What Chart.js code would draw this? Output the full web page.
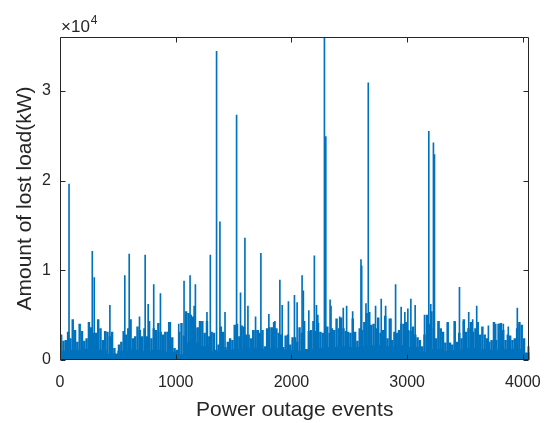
<!DOCTYPE html>
<html>
<head>
<meta charset="utf-8">
<script src="https://cdn.jsdelivr.net/npm/chart.js@4.4.1/dist/chart.umd.min.js"></script>
<style>
html,body{margin:0;padding:0;background:#fff;}
canvas{display:block;}
</style>
</head>
<body>
<canvas id="c" width="554" height="423"></canvas>
<script>
// Dense background of outage events (sampled every ~20 events, kW)
const bgEvents = [10,30,50,70,90,110,130,150,170,190,210,230,250,270,290,310,330,350,370,390,
410,430,450,470,490,510,530,550,570,590,610,630,650,670,690,710,730,750,770,790,
810,830,850,870,890,910,930,950,970,990,1010,1030,1050,1070,1090,1110,1130,1150,1170,1190,
1210,1230,1250,1270,1290,1310,1330,1350,1370,1390,1410,1430,1450,1470,1490,1510,1530,1550,1570,1590,
1610,1630,1650,1670,1690,1710,1730,1750,1770,1790,1810,1830,1850,1870,1890,1910,1930,1950,1970,1990,
2010,2030,2050,2070,2090,2110,2130,2150,2170,2190,2210,2230,2250,2270,2290,2310,2330,2350,2370,2390,
2410,2430,2450,2470,2490,2510,2530,2550,2570,2590,2610,2630,2650,2670,2690,2710,2730,2750,2770,2790,
2810,2830,2850,2870,2890,2910,2930,2950,2970,2990,3010,3030,3050,3070,3090,3110,3130,3150,3170,3190,
3210,3230,3250,3270,3290,3310,3330,3350,3370,3390,3410,3430,3450,3470,3490,3510,3530,3550,3570,3590,
3610,3630,3650,3670,3690,3710,3730,3750,3770,3790,3810,3830,3850,3870,3890,3910,3930,3950,3970,3990,
4010,4030,4050];
const bgLoad = [2800,2100,2200,3100,2400,4500,3300,2000,4000,3200,2100,2400,4200,3600,3000,3000,4500,3500,2200,3200,
3100,2600,3100,1300,400,1700,2000,3200,2800,3500,4500,2400,2600,3700,3300,2600,3500,2600,4300,2400,
3500,3300,4100,3100,2800,3100,3100,4200,2500,1300,1100,3100,4100,2700,5400,5200,5000,4800,3500,3600,
4300,4300,3000,4300,2600,3100,3000,1100,1700,3700,3100,1400,2000,2400,2200,3900,4000,2600,3800,3700,
2800,2800,2400,3300,3300,3300,3000,3300,1500,3500,3600,3600,4200,3500,3000,2800,1400,2700,2800,1700,
2500,2500,2000,3600,3000,4300,1100,3200,3300,4300,3200,4100,3100,3000,2800,3700,3000,3500,3300,4600,
3500,4700,3500,3200,3100,3000,4600,3100,2100,3500,3300,4200,5200,3000,3900,4000,3500,4700,3000,3300,
4900,2400,4600,2200,3100,3000,3300,4000,4000,4200,3300,3200,3700,2800,2500,2200,1500,2800,5000,4000,
5400,3500,2400,4300,3500,3100,1900,4200,1900,1700,4300,2000,3000,2400,4500,3100,3500,4200,3100,3500,
4200,2800,3700,2800,2400,2000,2200,4200,2200,4000,4100,3300,2200,2800,2700,2200,2400,3500,4200,3900,
2400,600,1500];

// Solid low-level band under the needles (per ~100 events, kW)
const floorEvents = [50,150,250,350,450,550,650,750,850,950,1050,1150,1250,1350,1450,1550,1650,1750,1850,1950,
2050,2150,2250,2350,2450,2550,2650,2750,2850,2950,3050,3150,3250,3350,3450,3550,3650,3750,3850,3950,4050];
const floorLoad = [1000,1100,1200,1100,700,1000,1100,1000,1100,900,600,1900,1500,900,1100,1200,1300,1200,1300,1100,
1000,1200,1300,1400,1500,1400,1500,1600,1500,1600,1400,900,1200,1000,1100,1300,1200,1100,1200,1200,800];

// Individual peak events (kW)
const peakEvents = [78,279,296,431,560,598,687,736,762,810,868,940,1026,1072,1124,1159,1170,1270,1299,1353,
1382,1426,1526,1560,1598,1624,1690,1736,1805,1857,1900,1920,1974,2026,2049,2092,2103,2150,2198,2216,
2228,2285,2297,2334,2342,2417,2448,2477,2529,2601,2607,2644,2664,2676,2727,2776,2814,2860,2900,2948,
2980,3006,3032,3069,3150,3187,3204,3227,3236,3273,3351,3414,3452,3486,3532,3566,3601,3702,3765,3793,
3831,3874,3952,3969];
const peakLoad = [19600,12100,9200,6100,9400,11800,4800,11700,6200,8400,7400,4200,4000,8800,9400,6000,8400,5300,11700,34400,
15400,5300,27300,7500,13600,6000,4800,11900,5100,4300,8900,6100,6500,7200,6400,9400,7700,5500,11600,6100,
5000,36000,24900,6700,6000,4800,5800,6000,5400,11200,10500,6300,30900,5300,6000,6800,6000,4600,8400,5900,
5300,5700,6800,6100,5000,25500,6200,24200,22900,4300,4000,4200,8100,4300,5300,4500,6000,3800,4000,4000,
4000,3700,5800,4000];

const xTicks = [0,1000,2000,3000,4000];
const yTicks = [0,10000,20000,30000];
const xMax = 4057, yMax = 36000;

const BLUE = '#0072BD';
const INK = '#262626';
const FONT = "'Liberation Sans', Arial, Helvetica, sans-serif";
Chart.defaults.font.family = FONT;
Chart.defaults.color = INK;

const toXY = (xs, ys) => xs.map((x, i) => ({x: x, y: ys[i]}));

const boxPlugin = {
  id: 'matlabBox',
  afterDraw(chart) {
    const {ctx, chartArea: a, scales: {x, y}} = chart;
    ctx.save();
    ctx.strokeStyle = INK;
    ctx.lineWidth = 1;
    const L = Math.round(a.left) + 0.5, R = Math.round(a.right) - 0.5;
    const T = Math.round(a.top) + 0.5, B = Math.round(a.bottom) - 0.5;
    ctx.beginPath();
    ctx.rect(L, T, R - L, B - T);
    ctx.stroke();
    const tl = 5;
    ctx.beginPath();
    xTicks.forEach(v => {
      const px = Math.round(x.getPixelForValue(v)) + 0.5;
      ctx.moveTo(px, B); ctx.lineTo(px, B - tl);
      ctx.moveTo(px, T); ctx.lineTo(px, T + tl);
    });
    yTicks.forEach(v => {
      const py = Math.round(y.getPixelForValue(v)) + 0.5;
      ctx.moveTo(L, py); ctx.lineTo(L + tl, py);
      ctx.moveTo(R, py); ctx.lineTo(R - tl, py);
    });
    ctx.stroke();
    // exponent label
    ctx.fillStyle = INK;
    ctx.textBaseline = 'alphabetic';
    ctx.font = '17px ' + FONT;
    ctx.fillText('\u00d710', a.left + 1, a.top - 5);
    const w = ctx.measureText('\u00d710').width;
    ctx.font = '12px ' + FONT;
    ctx.fillText('4', a.left + 1 + w + 1, a.top - 13);
    ctx.restore();
  }
};

new Chart(document.getElementById('c'), {
  type: 'bar',
  data: {
    datasets: [
      {data: toXY(floorEvents, floorLoad), backgroundColor: BLUE, borderWidth: 0, barThickness: 12, grouped: false},
      {data: toXY(bgEvents, bgLoad), backgroundColor: BLUE, borderWidth: 0, barThickness: 1.8, grouped: false},
      {data: toXY(peakEvents, peakLoad), backgroundColor: BLUE, borderWidth: 0, barThickness: 1, grouped: false}
    ]
  },
  options: {
    responsive: false,
    animation: false,
    devicePixelRatio: 1,
    layout: {padding: {left: 0, right: 23, top: 37, bottom: 0}},
    plugins: {legend: {display: false}, tooltip: {enabled: false}},
    scales: {
      x: {
        type: 'linear', min: 0, max: xMax, offset: false,
        grid: {display: false, drawTicks: false},
        border: {display: false},
        afterBuildTicks: s => { s.ticks = xTicks.map(v => ({value: v})); },
        ticks: {autoSkip: false, maxRotation: 0, padding: 13, color: INK, font: {size: 16}, callback: v => String(v)},
        title: {display: true, text: 'Power outage events', color: INK, font: {size: 21}, padding: {top: 0, bottom: 0}},
        afterFit: s => { s.height = 63; }
      },
      y: {
        type: 'linear', min: 0, max: yMax,
        grid: {display: false, drawTicks: false},
        border: {display: false},
        afterBuildTicks: s => { s.ticks = yTicks.map(v => ({value: v})); },
        ticks: {padding: 9, color: INK, font: {size: 16}, callback: v => String(v / 10000)},
        title: {display: true, text: 'Amount of lost load(kW)', color: INK, font: {size: 21}, padding: {top: 13, bottom: 0}},
        afterFit: s => { s.width = 60; }
      }
    }
  },
  plugins: [boxPlugin]
});
</script>
</body>
</html>
